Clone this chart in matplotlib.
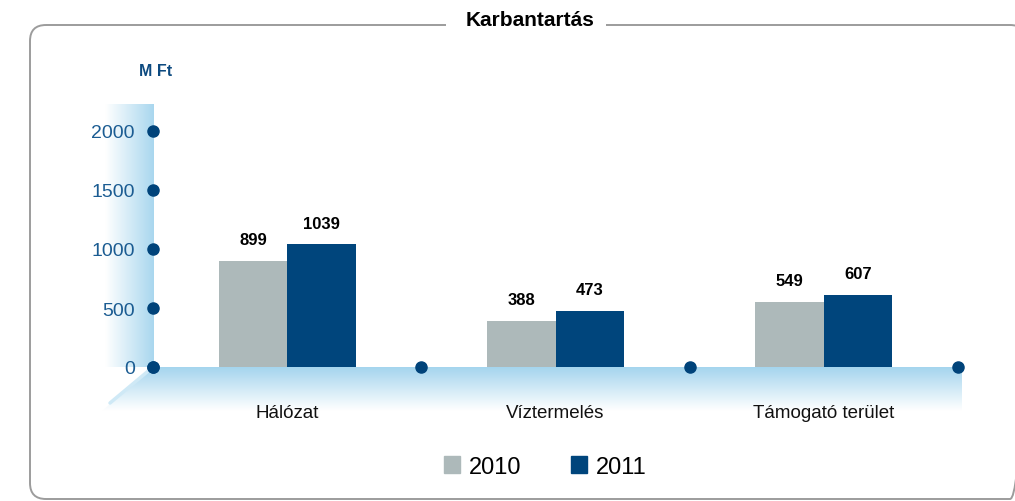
import numpy as np
import matplotlib
matplotlib.use('Agg')
import matplotlib.pyplot as plt
from matplotlib.patches import FancyBboxPatch, Rectangle, Patch, Polygon
from matplotlib.colors import LinearSegmentedColormap

# data
categories = ['Hálózat', 'Víztermelés', 'Támogató terület']
years = ['2010', '2011']
values_2010 = [899, 388, 549]
values_2011 = [1039, 473, 607]
yticks = [0, 500, 1000, 1500, 2000]

gray = '#adb9ba'
blue = '#00457c'
dot = '#00437a'
tickblue = '#1b5c92'

plt.rcParams['font.family'] = ['Liberation Sans', 'DejaVu Sans']

fig = plt.figure(figsize=(10.15, 5.02), dpi=100)

# background layer in pixel coords: frame, wall, floor
bg = fig.add_axes([0, 0, 1, 1], zorder=0)
bg.set_xlim(0, 1015)
bg.set_ylim(502, 0)
bg.axis('off')

frame = FancyBboxPatch((30, 26), 996, 474, boxstyle='round,pad=0,rounding_size=16',
                       fc='none', ec='#9c9c9c', lw=1.4)
bg.add_patch(frame)
bg.add_patch(Rectangle((446, 16), 160, 18, fc='white', ec='none', zorder=3))
bg.text(530, 20, 'Karbantartás', ha='center', va='center', fontsize=15,
        fontweight='bold', color='black', zorder=4)
bg.text(156, 72, 'M Ft', ha='center', va='center', fontsize=11.5,
        fontweight='bold', color='#0d4a80')

cmap = LinearSegmentedColormap.from_list('wb', ['#ffffff', '#a5d5ee'])
wall = np.linspace(0, 0.95, 64).reshape(1, -1)
bg.imshow(wall, cmap=cmap, vmin=0, vmax=1, extent=(105, 154, 368, 105),
          aspect='auto', interpolation='bicubic')
floor = np.linspace(1, 0, 64).reshape(-1, 1)
fl = bg.imshow(floor, cmap=cmap, vmin=0, vmax=1, extent=(100, 962, 412, 368),
               aspect='auto', interpolation='bicubic')
clip = Polygon([(153, 368), (962, 368), (962, 412), (102, 412)], closed=True,
               fc='none', ec='none', transform=bg.transData)
bg.add_patch(clip)
fl.set_clip_path(clip)
bg.plot([153, 110], [368, 404], color='#cfe9f6', lw=2.5, solid_capstyle='round')
bg.set_xlim(0, 1015)
bg.set_ylim(502, 0)

# main chart
ax = fig.add_axes([153 / 1015, 134 / 502, 805 / 1015, 236 / 502], zorder=1)
ax.patch.set_alpha(0)
x = np.arange(len(categories))
w = 0.255
b1 = ax.bar(x - w / 2, values_2010, w, color=gray, label=years[0], zorder=2)
b2 = ax.bar(x + w / 2, values_2011, w, color=blue, label=years[1], zorder=2)
for bars, vals in [(b1, values_2010), (b2, values_2011)]:
    for r, v in zip(bars, vals):
        ax.annotate(str(v), (r.get_x() + r.get_width() / 2, v), xytext=(0, 10),
                    textcoords='offset points', ha='center', va='bottom',
                    fontsize=12, fontweight='bold', color='black')

ax.set_xlim(-0.5, 2.5)
ax.set_ylim(0, 2000)
for s in ax.spines.values():
    s.set_visible(False)

# dots on axes
ax.plot([-0.5] * len(yticks), yticks, 'o', color=dot, ms=8, clip_on=False, zorder=3)
ax.plot([-0.5, 0.5, 1.5, 2.5], [0, 0, 0, 0], 'o', color=dot, ms=8, clip_on=False, zorder=3)

ax.set_yticks(yticks)
ax.set_yticklabels([str(t) for t in yticks], fontsize=14, color=tickblue)
ax.set_xticks(x)
ax.set_xticklabels(categories, fontsize=13.5, color='#111111')
ax.tick_params(axis='y', length=0, pad=13)
ax.tick_params(axis='x', length=0, pad=27)

handles = [Patch(color=gray), Patch(color=blue)]
fig.legend(handles, years, loc='center', bbox_to_anchor=(545 / 1015, 1 - 468 / 502),
           ncol=2, frameon=False, fontsize=17, handlelength=0.7, handleheight=0.7,
           handletextpad=0.35, columnspacing=2.1)

fig.savefig('out.png', dpi=100)
